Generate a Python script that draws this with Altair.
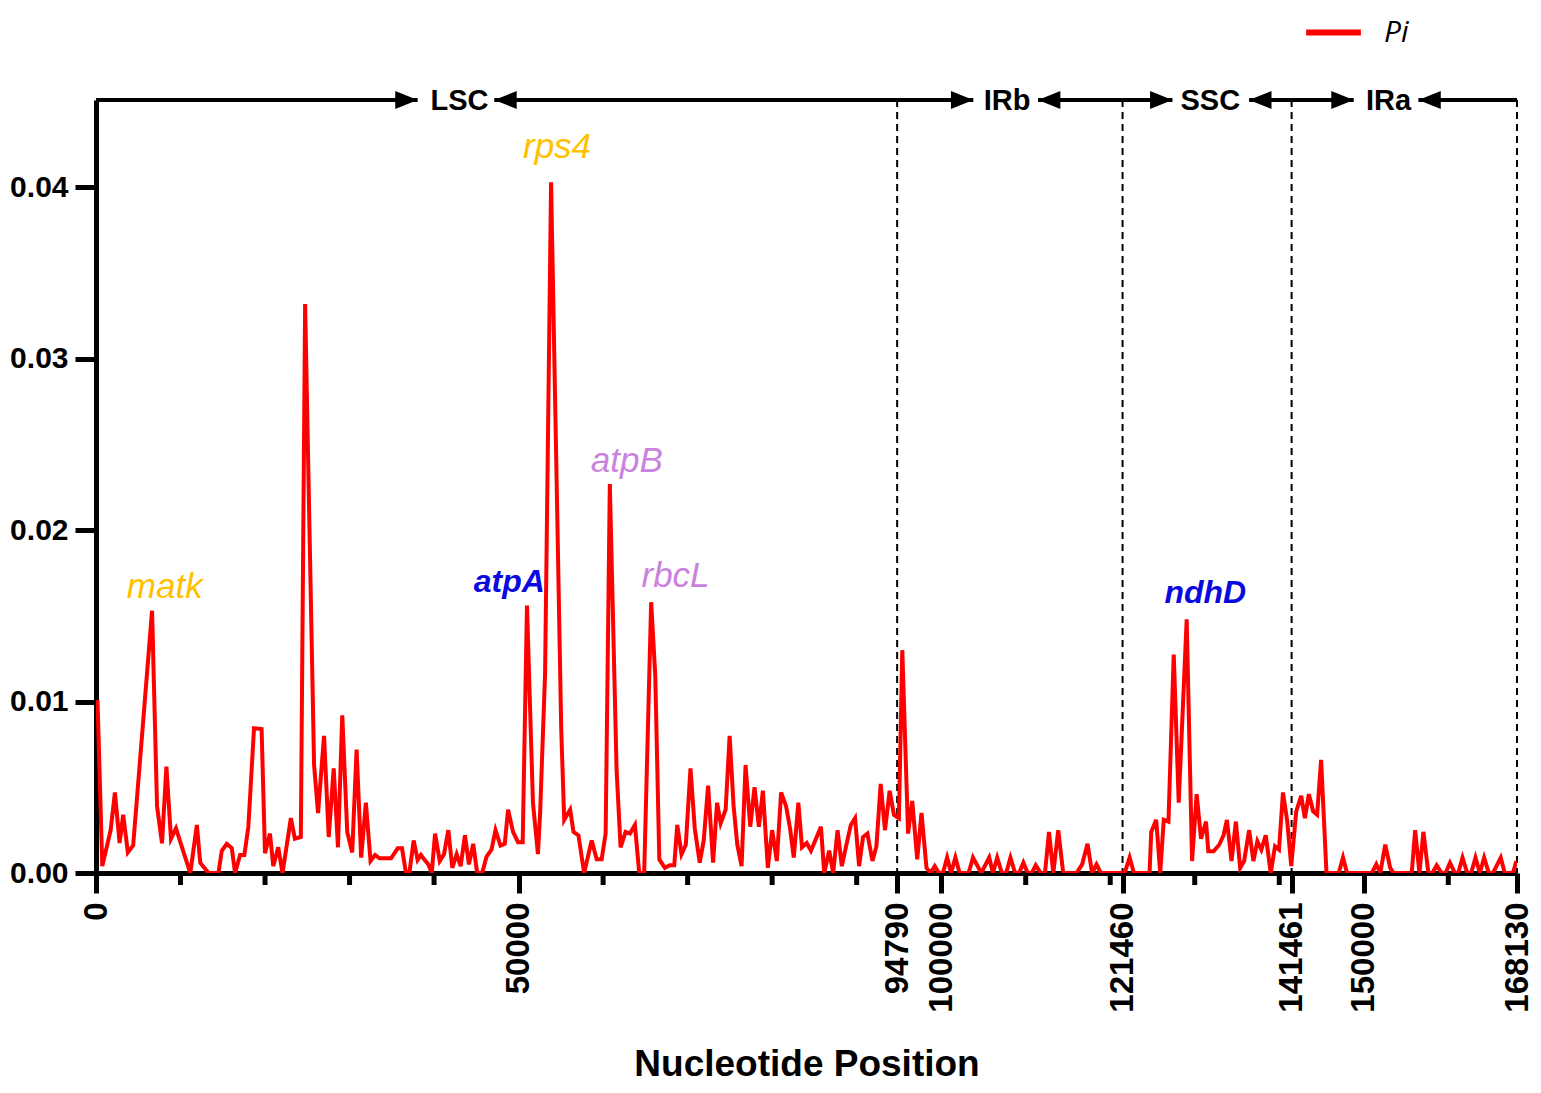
import altair as alt
import pandas as pd

# ---- data ----
positions = [177, 742, 1732, 2239, 2792, 3217, 3770, 4395, 6633, 7222, 7811, 8330, 8872, 9461,
             10368, 11158, 11935, 12336, 13314, 14492, 14881, 15470, 16059, 16459, 17048, 17555,
             18026, 18698, 19593, 19994, 20583, 20972, 21561, 22068, 23057, 23529, 24236, 24742,
             25802, 26274, 26981, 27535, 28124, 28630, 29137, 29726, 30315, 30833, 31375, 31929,
             32483, 33025, 33544, 34910, 35699, 36206, 36677, 37078, 37585, 38056, 38445,
             38821, 39328, 39729, 40118, 40671, 41178, 41685, 42156, 42674, 43146, 43652, 44124,
             44630, 45101, 45690, 46209, 46798, 47269, 47858, 48365, 48754, 49343, 49932, 50486,
             50992, 51699, 52288, 52548, 53137, 53844, 55045, 55398, 56105, 56494, 57083, 57755,
             58650, 59239, 59829, 60300, 60795, 61596, 62068, 62657, 63175, 63764, 64271, 64860,
             65685, 66173, 66650, 67310, 67899, 68418, 68772, 69278, 69785, 70339, 70845, 71434,
             71906, 72424, 73013, 73484, 73909, 74498, 74969, 75440, 75876, 76383, 76854, 77408,
             77914, 78433, 78904, 79493, 80000, 80554, 81060, 81649, 82121, 82556, 83098, 83534,
             84088, 84595, 85184, 85773, 86162, 86751, 87222, 87741, 88247, 88718, 89308, 89814,
             90286, 90757, 91275, 91864, 92336, 92843, 93349, 93903, 94410, 94999, 95399, 96083,
             96577, 97166, 97673, 98262, 98733, 99240, 99711, 100207, 100701, 101173, 101679,
             102186, 103246, 103765, 104742, 105685, 106121, 106627, 107181, 107688, 108194,
             108748, 109219, 109726, 110244, 110716, 111187, 111776, 112283, 112754, 113261,
             113850, 114439, 116018, 116678, 117314, 117856, 118375, 118881, 121708, 122297,
             122804, 124654, 124854, 125443, 125914, 126338, 126892, 127516, 128106, 129048,
             129684, 130226, 130745, 131334, 131605, 132230, 132901, 133408, 133808, 134350,
             134869, 135375, 135846, 136436, 136942, 137413, 137885, 138403, 138992, 139499,
             139970, 140441, 140948, 141419, 142008, 142597, 143033, 143504, 144011, 144482,
             144953, 145589, 147039, 147546, 148017, 150963, 151481, 151953, 152542, 153131,
             153520, 155676, 156077, 156584, 157055, 157644, 158115, 158622, 159211, 159682,
             160201, 160790, 161179, 161685, 162239, 162710, 163217, 163736, 164242, 164796,
             165300, 166205, 166677, 167655, 168050]
pi_values = [0.0101, 0.0004, 0.0025, 0.0047, 0.00175, 0.0034, 0.0012, 0.0016, 0.0153, 0.0039,
             0.00173, 0.0062, 0.0020, 0.0026, 0.0012, 0.0, 0.0028, 0.0006, 0.0, 0.0, 0.0013,
             0.0017, 0.00146, 0.0, 0.00105, 0.00105, 0.0027, 0.00845, 0.0084, 0.00115, 0.0023,
             0.0004, 0.0015, 0.0, 0.0032, 0.0020, 0.0021, 0.0332, 0.0063, 0.0035, 0.0080,
             0.0021, 0.0061, 0.0015, 0.0092, 0.0024, 0.0012, 0.0072, 0.0009, 0.0041, 0.0007,
             0.00105, 0.00086, 0.00086, 0.00144, 0.00144, 0.0, 0.0, 0.0019, 0.00076, 0.00105,
             0.0008, 0.0005, 0.0, 0.0023, 0.0007, 0.0011, 0.0025, 0.0003, 0.0011, 0.0004,
             0.0022, 0.0005, 0.0017, 0.0, 0.0, 0.00095, 0.00136, 0.0025, 0.0016, 0.0017, 0.0037,
             0.0024, 0.0018, 0.0018, 0.0156, 0.0041, 0.0011, 0.0035, 0.0117, 0.0403, 0.0084,
             0.0031, 0.0037, 0.0024, 0.0022, 0.0, 0.0019, 0.0008, 0.0008, 0.0023, 0.0227,
             0.0060, 0.0015, 0.0024, 0.0023, 0.0028, 0.0, 0.0, 0.0158, 0.0115, 0.0008, 0.0003,
             0.00045, 0.00045, 0.0028, 0.0011, 0.00165, 0.0061, 0.0026, 0.0006, 0.0019, 0.0051,
             0.0006, 0.0041, 0.0029, 0.0037, 0.0080, 0.0039, 0.00165, 0.0004, 0.0063, 0.0027,
             0.0050, 0.0027, 0.0048, 0.0003, 0.0025, 0.0007, 0.0047, 0.0039, 0.0026, 0.0009,
             0.0041, 0.0015, 0.00175, 0.0013, 0.0020, 0.0027, 0.0, 0.0013, 0.0, 0.0025, 0.0004,
             0.0015, 0.0028, 0.0032, 0.0004, 0.0021, 0.0023, 0.0007, 0.00155, 0.0052, 0.0025,
             0.0048, 0.0034, 0.0032, 0.0130, 0.0023, 0.0042, 0.0008, 0.0035, 0.0003, 0.0,
             0.0004, 0.0, 0.0, 0.0009, 0.0, 0.0009, 0.0, 0.0, 0.0009, 0.0, 0.0009, 0.0, 0.0009,
             0.0, 0.0, 0.0009, 0.0, 0.0, 0.0006, 0.0, 0.0, 0.00045, 0.0, 0.0, 0.0024, 0.0,
             0.0025, 0.0, 0.0, 0.0005, 0.0017, 0.0, 0.0005, 0.0, 0.0, 0.0009, 0.0, 0.0, 0.0024,
             0.0031, 0.0, 0.0031, 0.0030, 0.01275, 0.0041, 0.0148, 0.0007, 0.0046, 0.0020,
             0.0030, 0.00127, 0.00127, 0.00165, 0.0022, 0.0031, 0.0007, 0.0030, 0.0003, 0.0007,
             0.0025, 0.0007, 0.00185, 0.00136, 0.0022, 0.0, 0.00156, 0.00136, 0.0047, 0.0030,
             0.0004, 0.0036, 0.0045, 0.0032, 0.0046, 0.0036, 0.0034, 0.0066, 0.0, 0.0, 0.0009,
             0.0, 0.0, 0.0005, 0.0, 0.00165, 0.0003, 0.0, 0.0, 0.0025, 0.0, 0.0024, 0.0, 0.0,
             0.00045, 0.0, 0.0, 0.0006, 0.0, 0.0, 0.0009, 0.0, 0.0, 0.0009, 0.0, 0.0009, 0.0,
             0.0, 0.0009, 0.0, 0.0, 0.0007]

major_ticks = [0, 50000, 94790, 100000, 121460, 141461, 150000, 168130]
minor_ticks = [10000, 20000, 30000, 40000, 60000, 70000, 80000, 90000, 110000, 120000,
               130000, 140000, 160000]
y_ticks = [0.0, 0.01, 0.02, 0.03, 0.04]
boundaries = [94790, 121460, 141461, 168130]

region_names = ["LSC", "IRb", "SSC", "IRa"]
region_label_x = [43004, 107805, 131841, 152935]
seg_start = [0, 47128, 111458, 136436, 156466]
seg_end = [38056, 103800, 127364, 148807, 168130]
arrow_right_tips = [38056, 103800, 127364, 148807]
arrow_left_tips = [47128, 111458, 136436, 156466]

gene_names = ["matk", "rps4", "atpA", "atpB", "rbcL", "ndhD"]
gene_x = [8130, 54550, 48895, 62798, 68571, 131251]
gene_y = [0.0167, 0.04234, 0.0170, 0.02406, 0.01734, 0.01635]
gene_color = ["#FFC000", "#FFC000", "#0A0AE0", "#C983DE", "#C983DE", "#0A0AE0"]
gene_bold = [False, False, True, False, False, True]

XMAX = 168130
YMAX = 0.0451
W, H = 1421, 773
FONT = "Liberation Sans, Arial"

df = pd.DataFrame({"pos": positions, "pi": pi_values, "series": "Pi"})
xscale = alt.Scale(domain=[0, XMAX], nice=False, zero=False)
yscale = alt.Scale(domain=[0, YMAX], nice=False, zero=True)

line = alt.Chart(df).mark_line(strokeWidth=4, clip=True).encode(
    x=alt.X("pos:Q", scale=xscale,
            axis=alt.Axis(values=major_ticks, format="d", labelAngle=270,
                          labelFont=FONT, labelFontSize=33, labelFontWeight="bold",
                          labelColor="black", labelPadding=9, labelFlush=False,
                          labelOverlap=False, tickSize=20, tickWidth=5, tickColor="black",
                          domainWidth=5, domainColor="black", grid=False,
                          title="Nucleotide Position", titleFont=FONT, titleFontSize=37,
                          titleFontWeight="bold", titleColor="black",
                          titleY=191, titleBaseline="middle")),
    y=alt.Y("pi:Q", scale=yscale,
            axis=alt.Axis(values=y_ticks, format=".2f", labelFont=FONT,
                          labelFontSize=30, labelFontWeight="bold", labelColor="black",
                          labelPadding=7, tickSize=21, tickWidth=5, tickColor="black",
                          domainWidth=5, domainColor="black", grid=False, title=None)),
    color=alt.Color("series:N", scale=alt.Scale(domain=["Pi"], range=["#FF0000"]),
                    legend=alt.Legend(orient="none", legendX=1207, legendY=-98,
                                      title=None, symbolType="stroke", symbolSize=3000,
                                      symbolStrokeWidth=6, labelFont="Open Sans, Liberation Sans",
                                      labelFontStyle="italic", labelFontSize=30,
                                      labelColor="black", labelOffset=20, padding=0)),
)

minor = alt.Chart(pd.DataFrame({"t": minor_ticks})).mark_rule(
    color="black", strokeWidth=5).encode(
    x=alt.X("t:Q", scale=xscale), y=alt.value(H), y2=alt.value(H + 12))

dashes = alt.Chart(pd.DataFrame({"b": boundaries})).mark_rule(
    color="black", strokeWidth=2, strokeDash=[7, 5]).encode(
    x=alt.X("b:Q", scale=xscale), y=alt.value(0), y2=alt.value(H))

segs = alt.Chart(pd.DataFrame({"s": seg_start, "e": seg_end})).mark_rule(
    color="black", strokeWidth=4).encode(
    x=alt.X("s:Q", scale=xscale), x2="e:Q", y=alt.value(0))

right_arrows = alt.Chart(pd.DataFrame({"t": arrow_right_tips})).mark_point(
    shape="M0,0L-2,-0.8L-2,0.8Z", filled=True, size=500, color="black", opacity=1).encode(
    x=alt.X("t:Q", scale=xscale), y=alt.value(0))

left_arrows = alt.Chart(pd.DataFrame({"t": arrow_left_tips})).mark_point(
    shape="M0,0L2,-0.8L2,0.8Z", filled=True, size=500, color="black", opacity=1).encode(
    x=alt.X("t:Q", scale=xscale), y=alt.value(0))

regions = alt.Chart(pd.DataFrame({"name": region_names, "x": region_label_x})).mark_text(
    font=FONT, fontSize=29, fontWeight="bold", color="black", baseline="middle",
    align="center", dy=1).encode(
    x=alt.X("x:Q", scale=xscale), y=alt.value(0), text="name:N")

gdf = pd.DataFrame({"g": gene_names, "x": gene_x, "y": gene_y, "c": gene_color,
                    "b": gene_bold})
genes_reg = alt.Chart(gdf[~gdf["b"]]).mark_text(
    font=FONT, fontSize=35, fontStyle="italic", baseline="middle", align="center").encode(
    x=alt.X("x:Q", scale=xscale), y=alt.Y("y:Q", scale=yscale), text="g:N",
    fill=alt.Fill("c:N", scale=None, legend=None))
genes_bold = alt.Chart(gdf[gdf["b"]]).mark_text(
    font=FONT, fontSize=32, fontStyle="italic", fontWeight="bold", baseline="middle",
    align="center").encode(
    x=alt.X("x:Q", scale=xscale), y=alt.Y("y:Q", scale=yscale), text="g:N",
    fill=alt.Fill("c:N", scale=None, legend=None))

chart = alt.layer(dashes, minor, line, segs, right_arrows, left_arrows, regions,
                  genes_reg, genes_bold).properties(
    width=W, height=H,
    autosize=alt.AutoSizeParams(type="none"),
    padding={"left": 88, "top": 92, "right": 16, "bottom": 212},
    background="white",
).configure_view(stroke=None)

chart.save("out.html", embed_options={"renderer": "svg", "actions": False})
